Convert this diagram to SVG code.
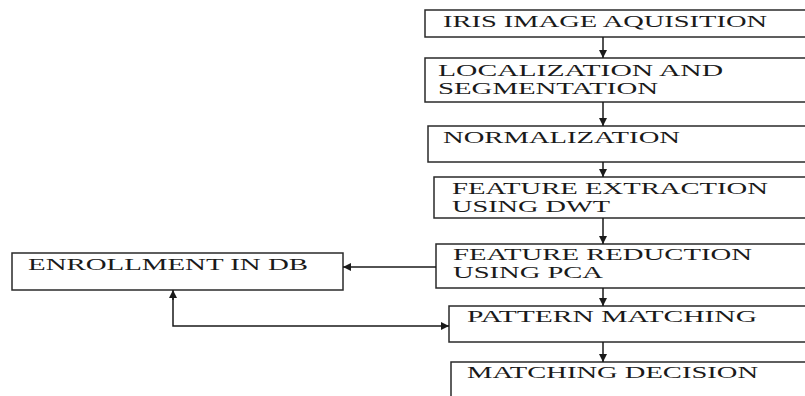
<svg xmlns="http://www.w3.org/2000/svg" width="805" height="396" viewBox="0 0 805 396">
<style>
.box{fill:#fff;stroke:#2a2a2a;stroke-width:1.5}
.t{font-family:"Liberation Serif","Times New Roman",serif;font-size:16px;fill:#1a1a1a}
.c{fill:none;stroke:#1a1a1a;stroke-width:1.5}
</style>
<defs>
<marker id="ah" viewBox="0 0 10 10" refX="10" refY="5" markerWidth="8" markerHeight="8" orient="auto" markerUnits="userSpaceOnUse"><path d="M0,0 L10,5 L0,10 z" fill="#1a1a1a"/></marker>
</defs>
<rect width="805" height="396" fill="#fff"/>
<g id="n1"><rect class="box" x="425" y="10" width="390" height="27"/><text class="t" x="443" y="27" textLength="324" lengthAdjust="spacingAndGlyphs">IRIS IMAGE AQUISITION</text></g>
<g id="n2"><rect class="box" x="425" y="58" width="390" height="44"/><text class="t" x="438" y="76" textLength="285" lengthAdjust="spacingAndGlyphs">LOCALIZATION  AND</text><text class="t" x="438" y="94" textLength="220" lengthAdjust="spacingAndGlyphs">SEGMENTATION</text></g>
<g id="n3"><rect class="box" x="428" y="126" width="390" height="36"/><text class="t" x="443" y="143" textLength="237" lengthAdjust="spacingAndGlyphs">NORMALIZATION</text></g>
<g id="n4"><rect class="box" x="434" y="177" width="390" height="41"/><text class="t" x="452" y="194" textLength="316" lengthAdjust="spacingAndGlyphs">FEATURE EXTRACTION</text><text class="t" x="452" y="212" textLength="158" lengthAdjust="spacingAndGlyphs">USING DWT</text></g>
<g id="n5"><rect class="box" x="436" y="244" width="390" height="44"/><text class="t" x="453" y="260" textLength="299" lengthAdjust="spacingAndGlyphs">FEATURE REDUCTION</text><text class="t" x="453" y="278" textLength="150" lengthAdjust="spacingAndGlyphs">USING PCA</text></g>
<g id="n6"><rect class="box" x="449" y="306" width="390" height="36"/><text class="t" x="467" y="322" textLength="290" lengthAdjust="spacingAndGlyphs">PATTERN MATCHING</text></g>
<g id="n7"><rect class="box" x="451" y="362" width="390" height="50"/><text class="t" x="467" y="378" textLength="291" lengthAdjust="spacingAndGlyphs">MATCHING DECISION</text></g>
<g id="enroll"><rect class="box" x="12" y="253" width="331" height="37"/><text class="t" x="28" y="270" textLength="280" lengthAdjust="spacingAndGlyphs">ENROLLMENT IN DB</text></g>
<g id="connectors">
<line class="c" x1="603" y1="37" x2="603" y2="58" marker-end="url(#ah)"/>
<line class="c" x1="603" y1="102" x2="603" y2="126" marker-end="url(#ah)"/>
<line class="c" x1="603" y1="162" x2="603" y2="177" marker-end="url(#ah)"/>
<line class="c" x1="603" y1="218" x2="603" y2="244" marker-end="url(#ah)"/>
<line class="c" x1="603" y1="288" x2="603" y2="306" marker-end="url(#ah)"/>
<line class="c" x1="603" y1="342" x2="603" y2="362" marker-end="url(#ah)"/>
<line class="c" x1="436" y1="267" x2="343" y2="267" marker-end="url(#ah)"/>
<path class="c" d="M173,298 L173,326 L449,326" marker-end="url(#ah)"/>
<line class="c" x1="173" y1="300" x2="173" y2="290" marker-end="url(#ah)"/>
</g>
</svg>
